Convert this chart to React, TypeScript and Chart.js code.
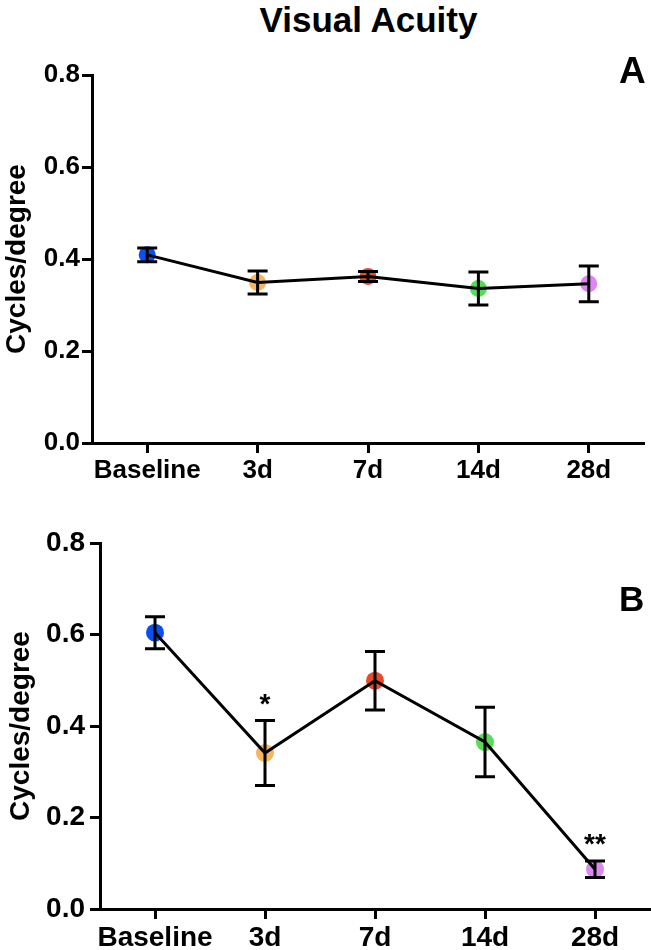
import React, { useEffect, useRef } from "react";
import { Chart, registerables } from "chart.js";

Chart.register(...registerables);

const categories = ["Baseline", "3d", "7d", "14d", "28d"];
const meanA = [0.409, 0.349, 0.362, 0.336, 0.346];
const errA = [0.015, 0.025, 0.011, 0.036, 0.039];
const starsA = ["", "", "", "", ""];
const meanB = [0.604, 0.341, 0.499, 0.365, 0.087];
const errB = [0.035, 0.071, 0.064, 0.076, 0.018];
const starsB = ["", "*", "", "", "**"];
const pointColors = ["#0a50f0", "#f7b461", "#ea4a2c", "#55dd55", "#dd88f0"];
const yTicks = [0, 0.2, 0.4, 0.6, 0.8];

const FONT = "'Liberation Sans', Arial, sans-serif";

const errorPlugin = {
  id: "errorBars",
  afterDatasetsDraw(chart: any, _args: any, opts: any) {
    const { ctx, scales } = chart;
    const means: number[] = opts.means;
    const errs: number[] = opts.errs;
    const stars: string[] = opts.stars;
    ctx.save();
    ctx.strokeStyle = "#000";
    ctx.lineWidth = 3;
    ctx.lineCap = "butt";
    means.forEach((m, i) => {
      const x = scales.x.getPixelForValue(i);
      const yT = scales.y.getPixelForValue(m + errs[i]);
      const yB = scales.y.getPixelForValue(m - errs[i]);
      ctx.beginPath();
      ctx.moveTo(x, yT);
      ctx.lineTo(x, yB);
      ctx.moveTo(x - 10, yT);
      ctx.lineTo(x + 10, yT);
      ctx.moveTo(x - 10, yB);
      ctx.lineTo(x + 10, yB);
      ctx.stroke();
      if (stars[i]) {
        ctx.fillStyle = "#000";
        ctx.font = `bold 28px ${FONT}`;
        ctx.textAlign = "center";
        ctx.textBaseline = "alphabetic";
        ctx.fillText(stars[i], x, yT - 8);
      }
    });
    ctx.restore();
  },
};

type PanelProps = {
  means: number[];
  errs: number[];
  stars: string[];
  width: number;
  height: number;
  top: number;
  padTop: number;
  padRight: number;
  yWidth: number;
  xHeight: number;
  tickFont: number;
  yPad: number;
  xPad: number;
  titlePad: number;
  radius: number;
};

function Panel(p: PanelProps) {
  const ref = useRef<HTMLCanvasElement | null>(null);
  useEffect(() => {
    if (!ref.current) return;
    const axisGrid = {
      drawOnChartArea: false,
      tickLength: 10,
      tickWidth: 3,
      tickColor: "#000",
    };
    const chart = new Chart(ref.current, {
      type: "line",
      data: {
        labels: categories,
        datasets: [
          {
            data: p.means,
            showLine: false,
            pointRadius: p.radius,
            pointHoverRadius: p.radius,
            pointBackgroundColor: pointColors,
            pointBorderWidth: 0,
            borderWidth: 0,
            order: 2,
          },
          {
            data: p.means,
            borderColor: "#000",
            borderWidth: 3,
            pointRadius: 0,
            fill: false,
            tension: 0,
            order: 1,
          },
        ],
      },
      options: {
        animation: false,
        responsive: false,
        devicePixelRatio: 1,
        layout: { autoPadding: false, padding: { top: p.padTop, right: p.padRight, left: 0, bottom: 0 } },
        plugins: {
          legend: { display: false },
          tooltip: { enabled: false },
          errorBars: { means: p.means, errs: p.errs, stars: p.stars },
        } as any,
        scales: {
          x: {
            type: "category",
            offset: true,
            grid: { ...axisGrid, offset: false },
            border: { width: 3, color: "#000" },
            ticks: {
              color: "#000",
              font: { family: FONT, size: p.tickFont, weight: "bold" },
              padding: p.xPad,
              autoSkip: false,
              maxRotation: 0,
            },
            afterFit: (s: any) => {
              s.height = p.xHeight;
              s.paddingLeft = 0;
              s.paddingRight = 0;
            },
          },
          y: {
            min: 0,
            max: 0.8,
            afterBuildTicks: (s: any) => {
              s.ticks = yTicks.map((v) => ({ value: v }));
            },
            grid: axisGrid,
            border: { width: 3, color: "#000" },
            ticks: {
              color: "#000",
              font: { family: FONT, size: p.tickFont, weight: "bold" },
              padding: p.yPad,
              callback: (v: any) => Number(v).toFixed(1),
            },
            title: {
              display: true,
              text: "Cycles/degree",
              color: "#000",
              font: { family: FONT, size: 28, weight: "bold" },
              padding: p.titlePad,
            },
            afterFit: (s: any) => {
              s.width = p.yWidth;
            },
          },
        },
      } as any,
      plugins: [errorPlugin],
    });
    return () => chart.destroy();
  }, []);
  return (
    <canvas
      ref={ref}
      width={p.width}
      height={p.height}
      style={{ position: "absolute", left: 0, top: p.top, width: p.width, height: p.height, display: "block" }}
    />
  );
}

export default function App() {
  const label = (text: string, left: number, top: number, size: number) => (
    <div
      style={{
        position: "absolute",
        left,
        top,
        fontFamily: FONT,
        fontWeight: "bold",
        fontSize: size,
        lineHeight: 1,
        color: "#000",
        whiteSpace: "nowrap",
      }}
    >
      {text}
    </div>
  );
  return (
    <div style={{ position: "absolute", left: 0, top: 0, width: 651, height: 950, background: "#fff", overflow: "hidden" }}>
      <div
        style={{
          position: "absolute",
          left: 0,
          width: 737,
          top: 2,
          textAlign: "center",
          fontFamily: FONT,
          fontWeight: "bold",
          fontSize: 35,
          lineHeight: 1,
          color: "#000",
        }}
      >
        Visual Acuity
      </div>
      <Panel
        means={meanA}
        errs={errA}
        stars={starsA}
        width={651}
        height={482}
        top={0}
        padTop={75}
        padRight={7}
        yWidth={92}
        xHeight={482 - 443}
        tickFont={26}
        yPad={2}
        xPad={2}
        titlePad={0}
        radius={8.5}
      />
      <Panel
        means={meanB}
        errs={errB}
        stars={starsB}
        width={651}
        height={460}
        top={490}
        padTop={53}
        padRight={1}
        yWidth={100}
        xHeight={460 - 419}
        tickFont={28}
        yPad={5}
        xPad={2}
        titlePad={4}
        radius={9}
      />
      {label("A", 619, 52, 37)}
      {label("B", 619, 581, 35)}
    </div>
  );
}
